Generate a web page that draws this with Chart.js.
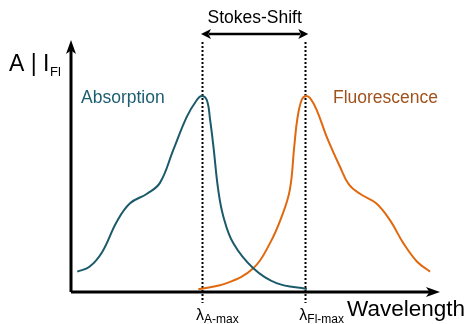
<!DOCTYPE html>
<html>
<head>
<meta charset="utf-8">
<script src="https://cdn.jsdelivr.net/npm/chart.js@4/dist/chart.umd.min.js"></script>
<style>
  html, body { margin: 0; padding: 0; background: #fff; }
  #wrap { width: 472px; height: 324px; }
</style>
</head>
<body>
<div id="wrap"><canvas id="c" width="472" height="324"></canvas></div>
<script>
// --- data (arbitrary wavelength units 0..100, intensity 0..1) ---
const absWl  = [1.7, 5.0, 8.5, 12.4, 16.0, 20.6, 24.1, 27.7, 31.4, 34.1, 35.4, 36.8, 37.7, 38.6, 39.9, 41.3, 44.0, 49.4, 55.7, 63.9];
const absVal = [0.081, 0.100, 0.160, 0.279, 0.352, 0.390, 0.433, 0.563, 0.696, 0.762, 0.778, 0.762, 0.683, 0.577, 0.405, 0.299, 0.193, 0.094, 0.035, 0.012];

const fluWl  = [34.5, 42.2, 49.4, 53.9, 57.1, 59.3, 60.5, 61.3, 62.5, 63.7, 64.8, 66.6, 69.3, 72.9, 75.4, 78.5, 82.7, 86.4, 90.1, 93.8, 97.3];
const fluVal = [0.011, 0.035, 0.094, 0.193, 0.299, 0.405, 0.577, 0.683, 0.762, 0.778, 0.769, 0.722, 0.616, 0.497, 0.425, 0.388, 0.352, 0.286, 0.193, 0.120, 0.081];

const peakWl     = [35.5, 63.5];
const peakLabels = [["λ", "A-max"], ["λ", "Fl-max"]];
const seriesNames = ["Absorption", "Fluorescence"];

const tealLine = "#1b5a6b";
const orangeLine = "#e0690f";

function arrowHead(ctx, x, y, dir, len, half) {
  // dir: "up" | "right" | "left"
  ctx.beginPath();
  if (dir === "up") {
    ctx.moveTo(x, y);
    ctx.lineTo(x - half, y + len);
    ctx.lineTo(x, y + len * 0.75);
    ctx.lineTo(x + half, y + len);
  } else if (dir === "right") {
    ctx.moveTo(x, y);
    ctx.lineTo(x - len, y - half);
    ctx.lineTo(x - len * 0.75, y);
    ctx.lineTo(x - len, y + half);
  } else {
    ctx.moveTo(x, y);
    ctx.lineTo(x + len, y - half);
    ctx.lineTo(x + len * 0.75, y);
    ctx.lineTo(x + len, y + half);
  }
  ctx.closePath();
  ctx.fill();
}

const decor = {
  id: "decor",
  beforeDatasetsDraw(chart) {
    const ctx = chart.ctx;
    const xs = chart.scales.x;
    const a = chart.chartArea;
    ctx.save();

    // dotted peak lines
    ctx.strokeStyle = "#000";
    ctx.lineWidth = 2;
    ctx.setLineDash([2, 2]);
    peakWl.forEach(w => {
      const px = Math.round(xs.getPixelForValue(w)) + 0.5;
      ctx.beginPath();
      ctx.moveTo(px, a.top + 2);
      ctx.lineTo(px, a.bottom + 11);
      ctx.stroke();
    });
    ctx.setLineDash([]);
    ctx.restore();
  },
  afterDatasetsDraw(chart) {
    const ctx = chart.ctx;
    const xs = chart.scales.x;
    const a = chart.chartArea;
    ctx.save();
    ctx.fillStyle = "#000";
    ctx.strokeStyle = "#000";

    // axes
    ctx.lineWidth = 3;
    ctx.beginPath();
    ctx.moveTo(a.left, a.bottom);
    ctx.lineTo(a.left, a.top + 8);
    ctx.moveTo(a.left, a.bottom);
    ctx.lineTo(a.right - 8, a.bottom);
    ctx.stroke();
    arrowHead(ctx, a.left, a.top, "up", 14, 5);
    arrowHead(ctx, a.right, a.bottom, "right", 14, 5);

    // Stokes shift arrow
    const x1 = xs.getPixelForValue(peakWl[0]) - 1;
    const x2 = xs.getPixelForValue(peakWl[1]) + 3;
    const ay = 34;
    ctx.lineWidth = 2.5;
    ctx.beginPath();
    ctx.moveTo(x1 + 8, ay);
    ctx.lineTo(x2 - 8, ay);
    ctx.stroke();
    arrowHead(ctx, x1, ay, "left", 10, 5);
    arrowHead(ctx, x2, ay, "right", 10, 5);

    ctx.font = "17.5px 'Liberation Sans', Arial, sans-serif";
    ctx.textAlign = "center";
    ctx.textBaseline = "alphabetic";
    ctx.fillText("Stokes-Shift", (x1 + x2) / 2, 23);

    // y-axis label
    ctx.textAlign = "left";
    ctx.font = "23px 'Liberation Sans', Arial, sans-serif";
    ctx.fillText("A | I", 9, 71);
    ctx.font = "13px 'Liberation Sans', Arial, sans-serif";
    ctx.fillText("Fl", 50, 76);

    // x-axis label
    ctx.font = "22.5px 'Liberation Sans', Arial, sans-serif";
    ctx.fillText("Wavelength", 347, 316);

    // peak labels
    peakWl.forEach((w, i) => {
      const px = xs.getPixelForValue(w) - 6;
      ctx.font = "16px 'Liberation Sans', Arial, sans-serif";
      ctx.fillText(peakLabels[i][0], px, 320);
      const lw = ctx.measureText(peakLabels[i][0]).width;
      ctx.font = "12px 'Liberation Sans', Arial, sans-serif";
      ctx.fillText(peakLabels[i][1], px + lw, 323);
    });

    // series names
    ctx.font = "17.5px 'Liberation Sans', Arial, sans-serif";
    ctx.fillStyle = "#1d5e70";
    ctx.fillText(seriesNames[0], 81, 103);
    ctx.fillStyle = "#a1521c";
    ctx.fillText(seriesNames[1], 333, 103);

    ctx.restore();
  }
};

new Chart(document.getElementById("c"), {
  type: "line",
  data: {
    datasets: [
      {
        label: seriesNames[0],
        data: absWl.map((w, i) => ({ x: w, y: absVal[i] })),
        borderColor: tealLine,
        borderWidth: 2,
        pointRadius: 0,
        tension: 0.4,
        fill: false,
        clip: false
      },
      {
        label: seriesNames[1],
        data: fluWl.map((w, i) => ({ x: w, y: fluVal[i] })),
        borderColor: orangeLine,
        borderWidth: 2,
        pointRadius: 0,
        tension: 0.4,
        fill: false,
        clip: false
      }
    ]
  },
  options: {
    responsive: false,
    animation: false,
    layout: { padding: { left: 71, right: 32, top: 40, bottom: 32 } },
    plugins: { legend: { display: false }, tooltip: { enabled: false } },
    scales: {
      x: { type: "linear", min: 0, max: 100, display: false },
      y: { min: 0, max: 1, display: false }
    }
  },
  plugins: [decor]
});
</script>
</body>
</html>
